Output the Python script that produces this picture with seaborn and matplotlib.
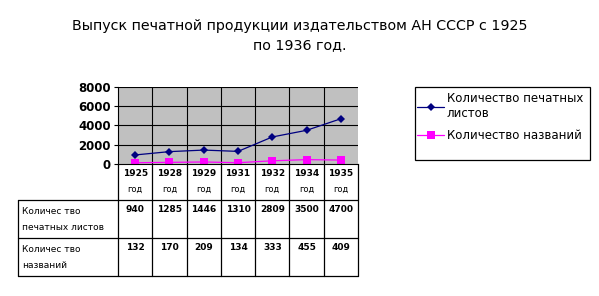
import matplotlib
matplotlib.use("Agg")
import matplotlib.pyplot as plt
import seaborn as sns
import pandas as pd
from matplotlib.lines import Line2D
from matplotlib.patches import Rectangle

years = ["1925", "1928", "1929", "1931", "1932", "1934", "1935"]
sheets = [940, 1285, 1446, 1310, 2809, 3500, 4700]
titles = [132, 170, 209, 134, 333, 455, 409]
series_names = ["Количество печатных листов", "Количество названий"]
row_labels = ["Количес тво\nпечатных листов", "Количес тво\nназваний"]
yticks = [0, 2000, 4000, 6000, 8000]
title = "Выпуск печатной продукции издательством АН СССР с 1925\nпо 1936 год."

sns.set_theme(style="white")
plt.rcParams['font.family'] = ['DejaVu Sans']
plt.rcParams['text.color'] = 'black'
plt.rcParams['ytick.color'] = 'black'

W, H = 599, 296
fig = plt.figure(figsize=(W / 100, H / 100), dpi=100)
L, R, T, B = 118, 358, 87, 164
ax = fig.add_axes([L / W, 1 - B / H, (R - L) / W, (B - T) / H])
ax.set_facecolor("#C0C0C0")

x = list(range(len(years)))
df = pd.DataFrame({
    "x": x * 2,
    "value": sheets + titles,
    "series": [series_names[0]] * len(x) + [series_names[1]] * len(x),
})
sns.lineplot(data=df[df.series == series_names[0]], x="x", y="value", ax=ax,
             color="#000080", marker="D", markersize=4, linewidth=0.9,
             markeredgewidth=0, legend=False)
sns.lineplot(data=df[df.series == series_names[1]], x="x", y="value", ax=ax,
             color="#FF00FF", marker="s", markersize=6, linewidth=0.9,
             markeredgewidth=0, legend=False)

ax.set_xlim(-0.5, len(years) - 0.5)
ax.set_ylim(0, 8000)
ax.set_yticks(yticks)
ax.set_yticklabels([str(v) for v in yticks], fontsize=8.5, fontweight="bold", color="black")
ax.tick_params(axis="y", length=3, width=0.8, color="black", pad=2, left=True)
ax.set_xticks([])
ax.set_xlabel("")
ax.set_ylabel("")
for v in yticks[1:]:
    ax.axhline(v, color="black", linewidth=0.8, zorder=1)
for i in range(1, len(years)):
    ax.axvline(i - 0.5, color="black", linewidth=0.8, zorder=1)
for s in ax.spines.values():
    s.set_color("black")
    s.set_linewidth(0.8)
ax.spines["top"].set_visible(False)
ax.spines["right"].set_visible(False)

def fx(px):
    return px / W
def fy(py):
    return 1 - py / H

col_w = (R - L) / len(years)
lw = 0.9
row1, row2, row3 = 200, 238, 276
left_lab = 18
for i in range(len(years) + 1):
    xp = L + i * col_w
    fig.add_artist(Line2D([fx(xp), fx(xp)], [fy(B), fy(row3)], color="black", lw=lw))
fig.add_artist(Line2D([fx(left_lab), fx(left_lab)], [fy(row1), fy(row3)], color="black", lw=lw))
for yp in (row1, row2, row3):
    fig.add_artist(Line2D([fx(left_lab), fx(R)], [fy(yp), fy(yp)], color="black", lw=lw))

for i, yr in enumerate(years):
    cx = L + (i + 0.5) * col_w
    fig.text(fx(cx), fy(173), yr, ha="center", va="center", fontsize=6.5, fontweight="bold")
    fig.text(fx(cx), fy(189), "год", ha="center", va="center", fontsize=6)
    fig.text(fx(cx), fy(210), str(sheets[i]), ha="center", va="center", fontsize=6.5, fontweight="bold")
    fig.text(fx(cx), fy(248), str(titles[i]), ha="center", va="center", fontsize=6.5, fontweight="bold")
for lab, top in zip(row_labels, (row1, row2)):
    l1, l2 = lab.split("\n")
    fig.text(fx(22), fy(top + 11), l1, ha="left", va="center", fontsize=6.5)
    fig.text(fx(22), fy(top + 27), l2, ha="left", va="center", fontsize=6.5)

fig.text(0.5, fy(26), title.split("\n")[0], ha="center", va="center", fontsize=10.3)
fig.text(0.5, fy(45), title.split("\n")[1], ha="center", va="center", fontsize=10.3)

fig.add_artist(Rectangle((fx(415), fy(160)), fx(590) - fx(415), fy(87) - fy(160),
                         transform=fig.transFigure, fill=False, edgecolor="black", lw=0.9))
handles = [
    Line2D([], [], color="#000080", marker="D", markersize=4, lw=0.9, markeredgewidth=0),
    Line2D([], [], color="#FF00FF", marker="s", markersize=6, lw=0.9, markeredgewidth=0),
]
leg = fig.legend(handles, ["Количество печатных\nлистов", series_names[1]],
                 loc="upper left", bbox_to_anchor=(fx(417), fy(92)),
                 fontsize=8.5, frameon=False, handlelength=2.3, handletextpad=0.2,
                 borderaxespad=0, borderpad=0, labelspacing=0.8)

fig.savefig("out.png", dpi=100, facecolor="white")
